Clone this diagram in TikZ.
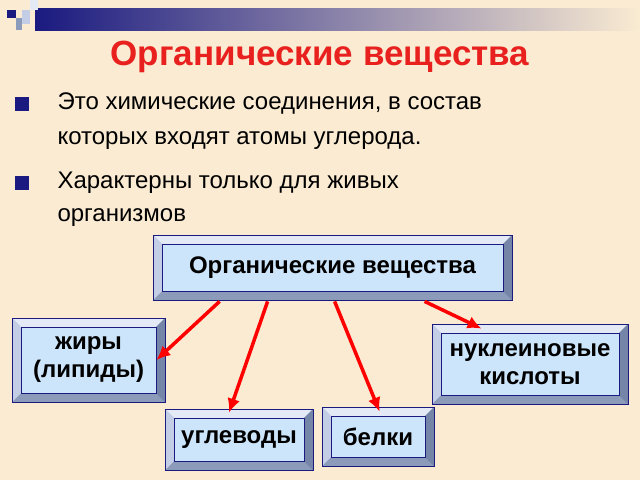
\documentclass[tikz,border=0pt]{standalone}
\usepackage{fontspec}
\setmainfont{Liberation Sans}
\usepackage{tikz}
\usetikzlibrary{arrows.meta,calc}
\definecolor{paper}{HTML}{FAEBD2}
\definecolor{navy}{HTML}{1A1A80}
\definecolor{face}{HTML}{CDE5FA}
\definecolor{bvtop}{HTML}{E4E9F6}
\definecolor{bvleft}{HTML}{C4CDE6}
\definecolor{bvright}{HTML}{7585A8}
\definecolor{bvbot}{HTML}{8D9BBB}
\definecolor{titlered}{HTML}{E8201E}
\tikzset{
  facebox/.style={fill=face, draw=navy, line width=0.8pt, font=\bfseries, align=center, inner sep=0pt},
  branch/.style={-{Latex[length=14pt,width=13pt]}, red, line width=3.5pt},
  bullet/.style={fill=navy, minimum size=14pt, inner sep=0pt}
}
% bevelled box: name, x1, y1, x2, y2, font size, text
\newcommand\bevelbox[7]{%
  \fill[bvbot] (#2,#3) rectangle (#4,#5);
  \fill[bvtop] (#2,#3) -- (#4,#3) -- (#4-9,#3+9) -- (#2+9,#3+9) -- cycle;
  \fill[bvleft] (#2,#3) -- (#2+9,#3+9) -- (#2+9,#5-9) -- (#2,#5) -- cycle;
  \fill[bvright] (#4,#3) -- (#4-9,#3+9) -- (#4-9,#5-9) -- (#4,#5) -- cycle;
  \draw[navy, line width=0.8pt] (#2,#3) rectangle (#4,#5);
  \node[facebox, minimum width={(#4-#2-18)*1pt}, minimum height={(#5-#3-18)*1pt}, font=\fontsize{#6}{28}\selectfont\bfseries]
    (#1) at ({(#2+#4)/2},{(#3+#5)/2}) {#7};
}
\begin{document}
\begin{tikzpicture}[x=1pt, y=-1pt]
\useasboundingbox (0,0) rectangle (640,480);
\fill[paper] (0,0) rectangle (640,480);
% top bar
\shade[left color=navy, right color=paper] (35,8) rectangle (640,30);
\fill[navy] (7,10) rectangle (16,18);
\fill[bvleft] (22,10) rectangle (30,18);
\fill[bvbot] (16,18) rectangle (22,30);
\fill[bvleft] (22,18) rectangle (30,24);
\fill[bvtop] (30,0) rectangle (38,10);
% title and bullets
\node[titlered, font=\fontsize{35}{40}\selectfont\bfseries] (title) at (320,57) {Органические вещества};
\node[bullet] (b1) at (22,104) {};
\node[bullet] (b2) at (22,183) {};
\node[anchor=west, align=left, font=\fontsize{24}{35}\selectfont] (t1) at (54,121)
  {Это химические соединения, в состав\\которых входят атомы углерода.};
\node[anchor=west, align=left, font=\fontsize{24}{33}\selectfont] (t2) at (54,199)
  {Характерны только для живых\\организмов};
% boxes
\bevelbox{org}{153}{235}{512}{300}{24}{Органические вещества}
\bevelbox{fat}{12}{318}{165}{402}{24}{жиры\\(липиды)}
\bevelbox{nuc}{432}{324}{628}{404}{24}{нуклеиновые\\кислоты}
\bevelbox{carb}{165}{409}{313}{470}{24}{углеводы}
\bevelbox{prot}{322}{407}{434}{466}{24}{белки}
% branches
\draw[branch] ($(org.south west)+(58,10)$) -- (fat.east);
\draw[branch] ($(org.south west)+(106,10)$) -- ($(carb.north)+(-10,-5)$);
\draw[branch] ($(org.south west)+(173,10)$) -- ($(prot.north west)+(49,-4)$);
\draw[branch] ($(org.south west)+(263,10)$) -- ($(nuc.north west)+(41,-4)$);
\end{tikzpicture}
\end{document}
